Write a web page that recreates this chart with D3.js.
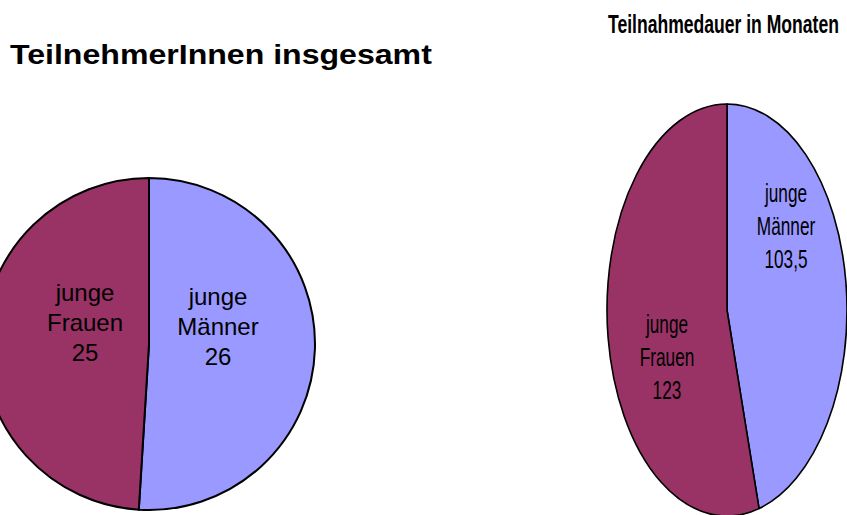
<!DOCTYPE html>
<html><head><meta charset="utf-8">
<script src="https://cdn.jsdelivr.net/npm/d3@7"></script>
<style>
html,body{margin:0;padding:0;background:#fff;}
svg{display:block;}
text{font-family:"Liberation Sans",Arial,sans-serif;fill:#000;}
</style></head>
<body>
<svg id="c" width="847" height="515"></svg>
<script>
// ---- data ----
const categories = ["junge Männer", "junge Frauen"];
const totalValues = [26, 25];
const durationValues = [103.5, 123];
const totalLabels = ["26", "25"];
const durationLabels = ["103,5", "123"];
const titles = ["TeilnehmerInnen insgesamt", "Teilnahmedauer in Monaten"];
const colors = ["#9999FF", "#993366"];

const svg = d3.select("#c");
const color = d3.scaleOrdinal().domain(categories).range(colors);
const pie = d3.pie().sort(null).value(d => d.value);

// ---- titles (fit to target width with a horizontal scale) ----
function fitTitle(txt, x, y, size, width) {
  const t = svg.append("text").attr("font-size", size).attr("font-weight", "bold").text(txt);
  const w = t.node().getComputedTextLength();
  t.attr("transform", `translate(${x},${y}) scale(${width / w},1)`);
}
fitTitle(titles[0], 10, 64, 27, 422);
fitTitle(titles[1], 608, 33, 25, 231);

// ---- left pie ----
const left = { cx: 149, cy: 344, r: 166 };
const dataL = categories.map((c, i) => ({ cat: c, value: totalValues[i], label: totalLabels[i] }));
const gL = svg.append("g").attr("transform", `translate(${left.cx},${left.cy})`);
const arcL = d3.arc().innerRadius(0).outerRadius(left.r);
gL.selectAll("path").data(pie(dataL)).join("path")
  .attr("d", arcL).attr("fill", d => color(d.data.cat))
  .attr("stroke", "#000").attr("stroke-width", 2).attr("stroke-linejoin", "round");

const labelPosL = [[69, -18], [-64, -22]];
pie(dataL).forEach((d, i) => {
  const words = d.data.cat.split(" ").concat([d.data.label]);
  const t = gL.append("text").attr("text-anchor", "middle").attr("font-size", 24)
    .attr("transform", `translate(${labelPosL[i][0]},${labelPosL[i][1]})`);
  words.forEach((w, k) => {
    t.append("tspan").attr("x", 0).attr("y", (k - 1) * 30 + 9).text(w);
  });
});

// ---- right pie (ellipse) ----
const right = { cx: 727, cy: 310, rx: 120, ry: 206 };
const dataR = categories.map((c, i) => ({ cat: c, value: durationValues[i], label: durationLabels[i] }));
const gR = svg.append("g").attr("transform", `translate(${right.cx},${right.cy}) scale(${right.rx / right.ry},1)`);
const arcR = d3.arc().innerRadius(0).outerRadius(right.ry);
gR.selectAll("path").data(pie(dataR)).join("path")
  .attr("d", arcR).attr("fill", d => color(d.data.cat))
  .attr("stroke", "#000").attr("stroke-width", 1.6).attr("stroke-linejoin", "round")
  .attr("vector-effect", "non-scaling-stroke");

const labelPosR = [[59, -84], [-60, 47]];
pie(dataR).forEach((d, i) => {
  const words = d.data.cat.split(" ").concat([d.data.label]);
  const t = svg.append("text").attr("text-anchor", "middle").attr("font-size", 25)
    .attr("transform", `translate(${right.cx + labelPosR[i][0]},${right.cy + labelPosR[i][1]}) scale(0.69,1)`);
  words.forEach((w, k) => {
    t.append("tspan").attr("x", 0).attr("y", (k - 1) * 33.5 + 9).text(w);
  });
});
</script>
</body></html>
